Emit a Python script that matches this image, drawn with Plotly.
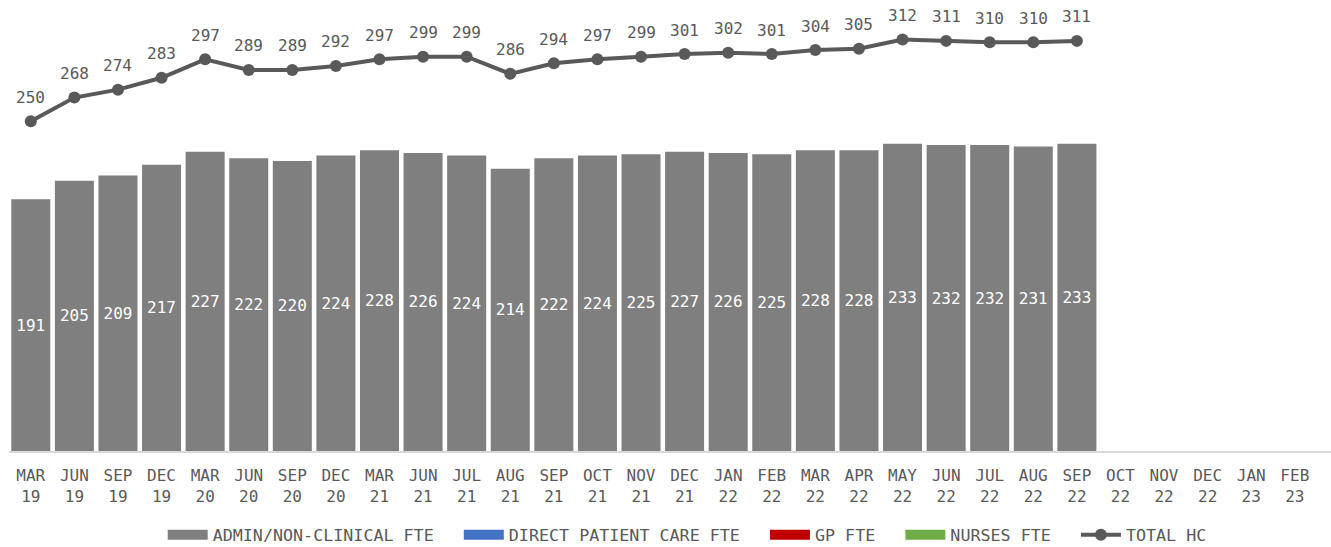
import plotly.graph_objects as go

# Quarterly / monthly reporting periods shown on the x axis
periods = [
    "MAR<br>19", "JUN<br>19", "SEP<br>19", "DEC<br>19", "MAR<br>20", "JUN<br>20",
    "SEP<br>20", "DEC<br>20", "MAR<br>21", "JUN<br>21", "JUL<br>21", "AUG<br>21",
    "SEP<br>21", "OCT<br>21", "NOV<br>21", "DEC<br>21", "JAN<br>22", "FEB<br>22",
    "MAR<br>22", "APR<br>22", "MAY<br>22", "JUN<br>22", "JUL<br>22", "AUG<br>22",
    "SEP<br>22", "OCT<br>22", "NOV<br>22", "DEC<br>22", "JAN<br>23", "FEB<br>23",
    "MAR<br>23",
]

admin_fte = [191, 205, 209, 217, 227, 222, 220, 224, 228, 226, 224, 214, 222,
             224, 225, 227, 226, 225, 228, 228, 233, 232, 232, 231, 233]

total_hc = [250, 268, 274, 283, 297, 289, 289, 292, 297, 299, 299, 286, 294,
            297, 299, 301, 302, 301, 304, 305, 312, 311, 310, 310, 311]

legend_names = ["ADMIN/NON-CLINICAL FTE", "DIRECT PATIENT CARE FTE", "GP FTE", "NURSES FTE"]
legend_colors = ["#7f7f7f", "#4472c4", "#c00000", "#70ad47"]

FONT = "DejaVu Sans Mono"
TXT = "#595959"
PAD = "\u00a0\u00a0"

fig = go.Figure()

fig.add_trace(go.Bar(
    x=periods[:len(admin_fte)],
    y=admin_fte,
    marker=dict(color="#7f7f7f", line=dict(width=0)),
    text=[str(v) for v in admin_fte],
    textposition="inside",
    insidetextanchor="middle",
    textangle=0,
    textfont=dict(family=FONT, size=16, color="white"),
    showlegend=False,
    hoverinfo="skip",
))

# Legend swatches for the FTE series
for name, color in zip(legend_names, legend_colors):
    fig.add_trace(go.Scatter(
        x=[None], y=[None], mode="lines", name=name + PAD,
        line=dict(color=color, width=10),
    ))

fig.add_trace(go.Scatter(
    x=periods[:len(total_hc)],
    y=total_hc,
    name="TOTAL HC",
    mode="lines+markers",
    line=dict(color="#595959", width=4),
    marker=dict(color="#595959", size=12),
    cliponaxis=False,
))

# Value labels above each TOTAL HC point
for p, v in zip(periods, total_hc):
    fig.add_annotation(
        x=p, y=v, text=str(v), showarrow=False, yshift=24,
        font=dict(family=FONT, size=16, color=TXT),
    )

fig.update_layout(
    width=1331,
    height=547,
    margin=dict(l=9, r=0, t=0, b=96, autoexpand=False),
    paper_bgcolor="white",
    plot_bgcolor="white",
    bargap=0.105,
    font=dict(family=FONT, size=16, color=TXT),
    legend=dict(
        orientation="h",
        x=0.513, xanchor="center",
        y=-0.186, yanchor="middle",
        font=dict(family=FONT, size=16.7, color=TXT),
        itemwidth=40,
    ),
    xaxis=dict(
        type="category",
        categoryorder="array",
        categoryarray=periods,
        range=[-0.5, 29.83],
        showgrid=False,
        showline=True,
        linecolor="#d9d9d9",
        linewidth=2,
        ticks="",
        ticklabelstandoff=9,
        tickfont=dict(family=FONT, size=16, color=TXT),
        fixedrange=True,
    ),
    yaxis=dict(
        range=[0, 342],
        showgrid=False,
        zeroline=False,
        showticklabels=False,
        fixedrange=True,
    ),
)

fig.write_html("out.html")
